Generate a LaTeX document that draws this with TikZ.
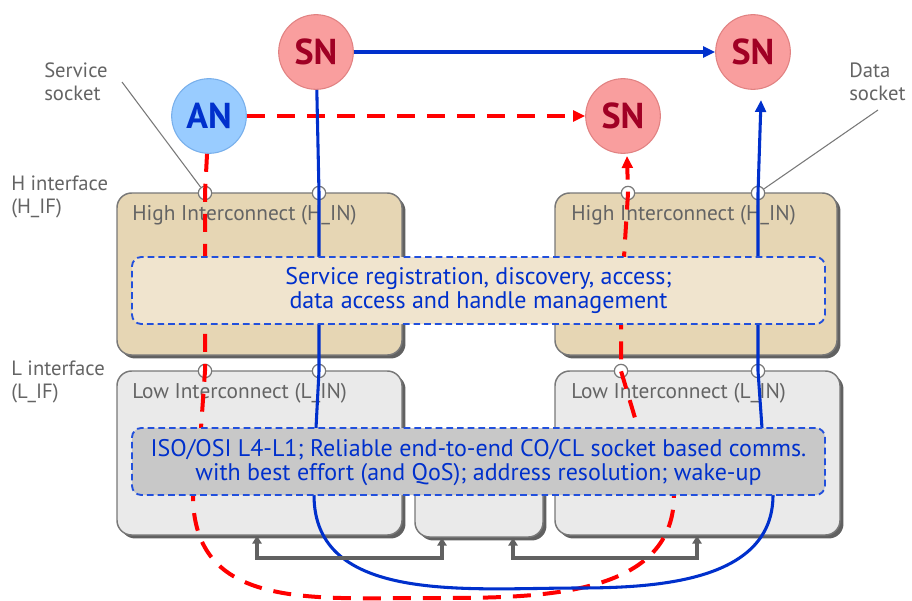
\documentclass[tikz,border=0pt]{standalone}
\usepackage{fontspec}
\setmainfont{PT Sans}
\usetikzlibrary{arrows.meta,fit,shadows}

\definecolor{hifill}{RGB}{230,214,180}
\definecolor{hibar}{RGB}{240,228,206}
\definecolor{lofill}{RGB}{234,234,234}
\definecolor{lobar}{RGB}{200,200,200}
\definecolor{boxedge}{RGB}{120,120,120}
\definecolor{linkblue}{RGB}{0,48,204}
\definecolor{barblue}{RGB}{34,80,220}
\definecolor{linkred}{RGB}{255,0,0}
\definecolor{snfill}{RGB}{249,158,158}
\definecolor{snedge}{RGB}{225,130,130}
\definecolor{sntext}{RGB}{160,0,36}
\definecolor{anfill}{RGB}{153,204,255}
\definecolor{anedge}{RGB}{120,175,235}
\definecolor{greytext}{RGB}{100,100,100}

\tikzset{
  node circ/.style={circle, minimum size=56pt, inner sep=0pt, line width=0.8pt,
    font=\fontsize{27}{27}\selectfont\bfseries},
  sncirc/.style={node circ, fill=snfill, draw=snedge, text=sntext},
  ancirc/.style={node circ, fill=anfill, draw=anedge, text=linkblue},
  layerbox/.style={rounded corners=11pt, draw=boxedge, line width=1.1pt, inner sep=0pt,
    drop shadow={shadow xshift=2.6pt, shadow yshift=-2.6pt, fill=black!62, opacity=1}},
  hibox/.style={layerbox, fill=hifill},
  lobox/.style={layerbox, fill=lofill},
  barbox/.style={rounded corners=7pt, draw=barblue, line width=1.4pt,
    dash pattern=on 5pt off 3pt, inner sep=0pt},
  boxlabel/.style={text=greytext, font=\fontsize{16}{18}\selectfont, anchor=west, inner sep=0pt},
  sidelabel/.style={text=greytext, font=\fontsize{15.5}{17}\selectfont, align=left, anchor=west, inner sep=0pt},
  bartext/.style={text=linkblue, font=\fontsize{18}{18}\selectfont, align=center, inner sep=0pt},
  socketmark/.style={circle, fill=white, draw=boxedge, line width=0.9pt, minimum size=10pt, inner sep=0pt},
  leader/.style={draw=boxedge, line width=0.8pt},
  bluelink/.style={draw=linkblue, line width=2.3pt},
  redlink/.style={draw=linkred, line width=3pt, dash pattern=on 13.5pt off 9pt},
  bluetip/.style={-{Triangle[length=9pt,width=8pt]}},
  redtip/.style={-{Triangle[length=9pt,width=8pt]}},
  greylink/.style={draw=black!62, line width=2.3pt, {Triangle[length=6pt,width=7pt]}-{Triangle[length=6pt,width=7pt]}}
}

\begin{document}
\begin{tikzpicture}[x=0.75pt, y=-0.75pt]
\useasboundingbox (0,0) rectangle (912,600);

% ---- interconnect layers ----
\node[hibox, fit={(117,193) (402,355)}] (hleft) {};
\node[hibox, fit={(555,193) (837,355)}] (hright) {};
\node[lobox, fit={(117,371) (402,535)}] (lleft) {};
\node[lobox, fit={(415,440) (543,537)}] (lmid) {};
\node[lobox, fit={(555,371) (840,535)}] (lright) {};

\node[boxlabel] at (132,215) {High Interconnect (H\_IN)};
\node[boxlabel] at (571,215) {High Interconnect (H\_IN)};
\node[boxlabel] at (132,393) {Low Interconnect (L\_IN)};
\node[boxlabel] at (571,393) {Low Interconnect (L\_IN)};

% ---- side labels ----
\node[sidelabel] (svclab) at (44,82) {Service\\socket};
\node[sidelabel] (datalab) at (849,82) {Data\\socket};
\node[sidelabel] at (11,197) {H interface\\(H\_IF)};
\node[sidelabel] at (11,382) {L interface\\(L\_IF)};

% ---- sockets on the H and L interfaces ----
\node[socketmark] (hs1) at (205,193) {};
\node[socketmark] (hs2) at (319,193) {};
\node[socketmark] (hs3) at (628,193) {};
\node[socketmark] (hs4) at (758,193) {};
\node[socketmark] (ls1) at (205,371) {};
\node[socketmark] (ls2) at (319,371) {};
\node[socketmark] (ls3) at (621,371) {};
\node[socketmark] (ls4) at (758,371) {};

\coordinate (svcfoot) at (122,82);
\coordinate (datafoot) at (878,110);
\draw[leader] (svcfoot) -- (hs1);
\draw[leader] (datafoot) -- (hs4);

% ---- application and service nodes ----
\node[sncirc] (sn1) at (316,52) {SN};
\node[sncirc] (sn2) at (753,52) {SN};
\node[ancirc] (an)  at (209,116) {AN};
\node[sncirc] (sn3) at (623,116) {SN};

% ---- waypoints of the two flows ----
\coordinate (r1) at (201,428);
\coordinate (r2) at (193,495);
\coordinate (rlow) at (425,598);
\coordinate (r3) at (674,495);
\coordinate (r4) at (638,428);
\coordinate (r5) at (621,324);
\coordinate (r6) at (624,257);
\coordinate (rtip) at (627,156);

\coordinate (b1) at (316,428);
\coordinate (b2) at (314,495);
\coordinate (blow) at (578,588);
\coordinate (b3) at (773,495);
\coordinate (b4) at (762,428);
\coordinate (btip) at (761,100);

% red: request path AN -> SN through the stack
\draw[redlink, redtip] (an) -- (sn3);
\draw[redlink, redtip] (an) -- (hs1.center) -- (ls1.center) -- (r1) -- (r2)
  to[out=-90,in=180,looseness=1.15] (rlow) to[out=0,in=-90] (r3)
  -- (r4) -- (ls3.center) -- (r5) -- (r6) -- (hs3.center) -- (rtip);

% blue: data path SN -> SN through the stack
\draw[bluelink, bluetip] (sn1) -- (sn2);
\draw[bluelink, bluetip] (sn1) -- (hs2.center) -- (ls2.center) -- (b1) -- (b2)
  to[out=-90,in=180] (blow) to[out=0,in=-90] (b3)
  -- (b4) -- (ls4.center) -- (hs4.center) -- (btip);

% ---- shared service bars (cover the links) ----
\node[barbox, fill=hibar, fit={(132,257) (825,324)}] (hbar) {};
\node[bartext] at (hbar.center) {Service registration, discovery, access;\\data access and handle management};
\node[barbox, fill=lobar, fit={(132,428) (825,495)}] (lbar) {};
\node[bartext] at ([yshift=-0.5pt]lbar.center) {ISO/OSI L4-L1; Reliable end-to-end CO/CL socket based comms.\\with best effort (and QoS); address resolution; wake-up};

% ---- links between low interconnects ----
\coordinate (g1) at (257,558);
\coordinate (g2) at (442,558);
\coordinate (g3) at (513,558);
\coordinate (g4) at (697,558);
\draw[greylink] (lleft.south -| g1) -- (g1) -- (g2) -- (lmid.south -| g2);
\draw[greylink] (lmid.south -| g3) -- (g3) -- (g4) -- (lright.south -| g4);

\end{tikzpicture}
\end{document}
